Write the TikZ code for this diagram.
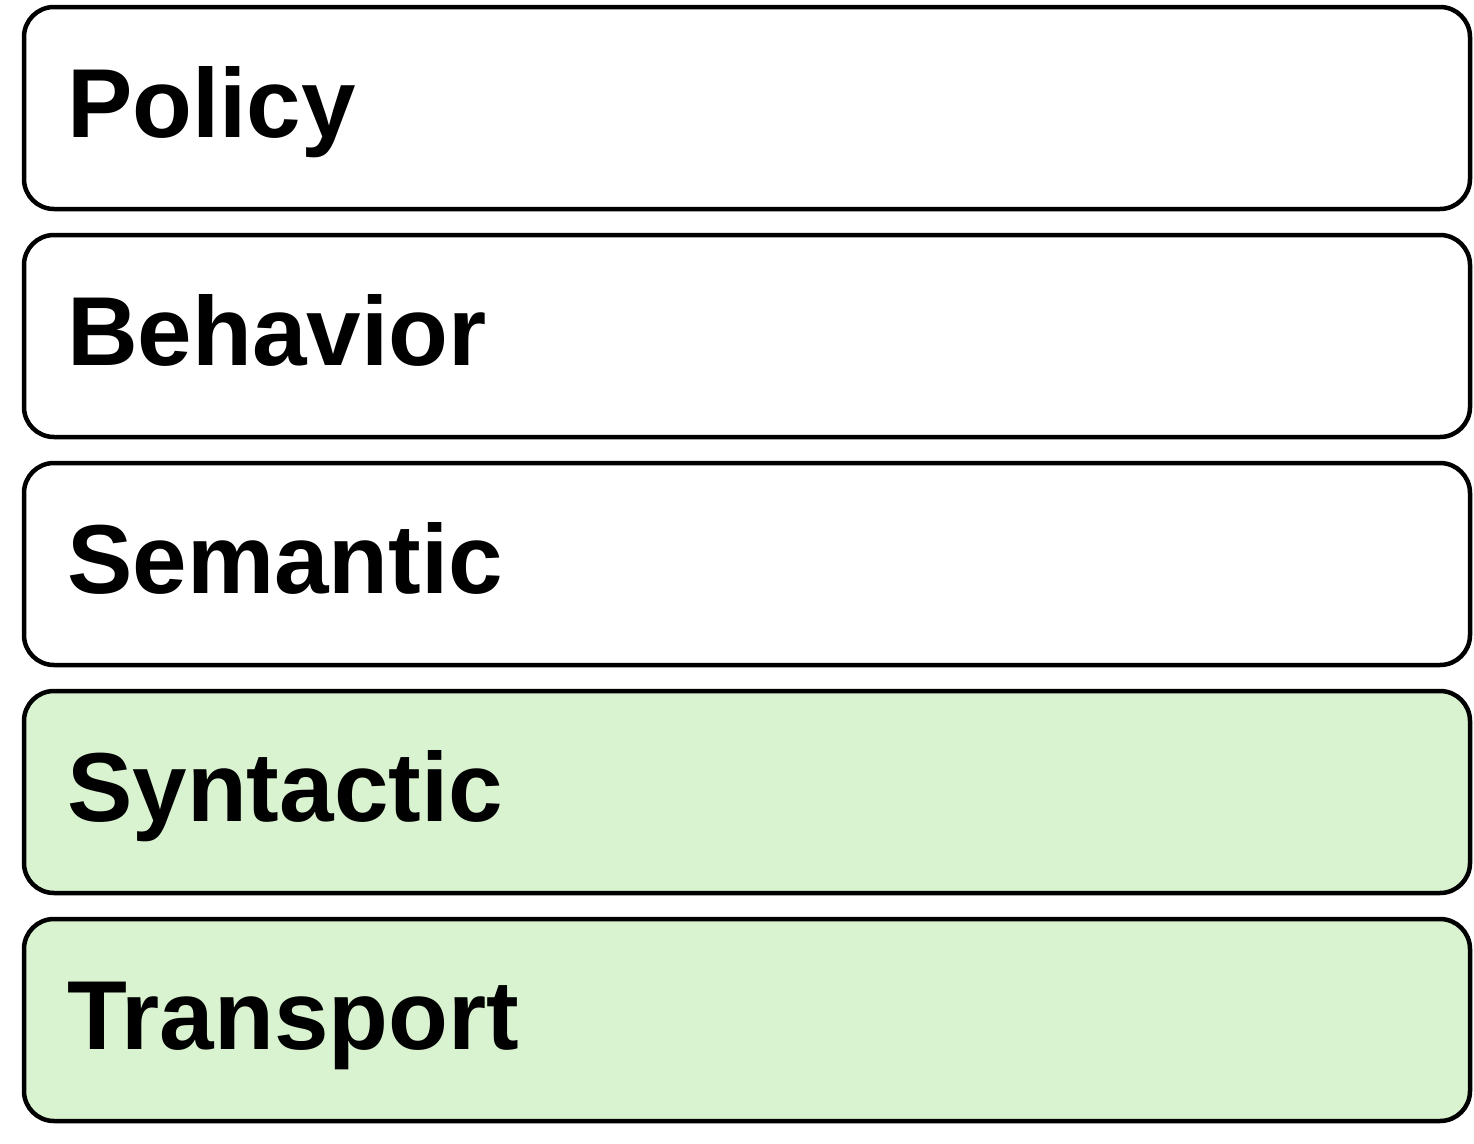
\documentclass[tikz,border=0pt]{standalone}
\usepackage{fontspec}
\setmainfont{Liberation Sans}
\definecolor{lightgreen}{HTML}{D9F2D0}
\begin{document}
\begin{tikzpicture}[x=1pt,y=-1pt,
  layerbox/.style={draw=black, line width=4.5pt, rounded corners=30pt, minimum width=1446pt, minimum height=202pt, inner sep=0pt, fill=white},
  greenbox/.style={layerbox, fill=lightgreen},
  lbl/.style={anchor=base west, inner sep=0pt, font=\fontsize{98}{110}\selectfont\bfseries}]
\useasboundingbox (0,0) rectangle (1474,1143);
\node[layerbox] (b1) at (747,108) {};
\node[layerbox] (b2) at (747,336) {};
\node[layerbox] (b3) at (747,564) {};
\node[greenbox] (b4) at (747,792) {};
\node[greenbox] (b5) at (747,1020) {};
\node[lbl] (t1) at (67,137) {Policy};
\node[lbl] (t2) at (67,365) {Behavior};
\node[lbl] (t3) at (67,593) {Semantic};
\node[lbl] (t4) at (67,821) {Syntactic};
\node[lbl] (t5) at (67,1049) {Transport};
\end{tikzpicture}
\end{document}
